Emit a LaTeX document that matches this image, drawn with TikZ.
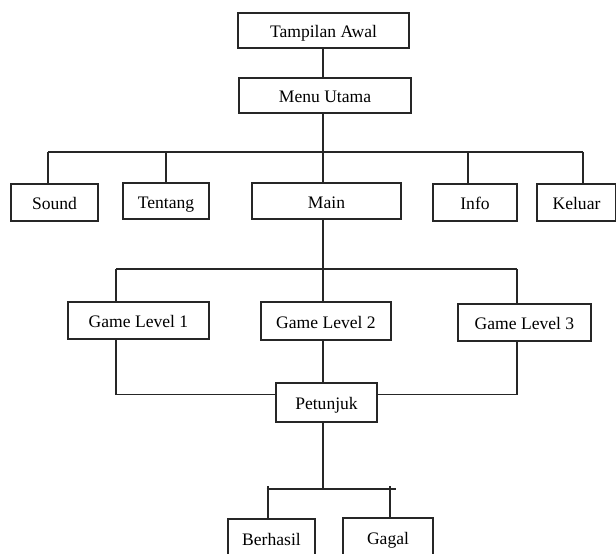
\documentclass[tikz,border=0pt]{standalone}
\usepackage{fontspec}
\setmainfont{Liberation Serif}
\usepackage{tikz}
\usetikzlibrary{positioning}

\begin{document}
\begin{tikzpicture}[x=0.02cm, y=-0.02cm,
screenbox/.style={rectangle, draw=black!85, line width=.7pt, inner sep=0pt,
outer sep=0pt, minimum height=0.74cm, text height=8pt, text depth=0pt,
font=\fontsize{10}{12}\selectfont},
%
link/.style={draw=black!85, line width=.6pt}]

\useasboundingbox (0,0) rectangle (616,554);

%%%%%%%%%%%%%%%%%%%%%%%%%%%%%%
\node [screenbox, minimum width=3.42cm, minimum height=0.70cm] (awal) at (323.5,30.5) {Tampilan Awal};
\node [screenbox, minimum width=3.44cm, minimum height=0.70cm] (menu) at (325,95.5) {Menu Utama};
%%%%%%%%%%%%%%%%%%%%%%%%%%%%%%
\node [screenbox, minimum width=1.74cm] (sound) at (54.5,202.5) {Sound};
\node [screenbox, minimum width=1.72cm, minimum height=0.72cm] (tentang) at (166,201) {Tentang};
\node [screenbox, minimum width=2.98cm, minimum height=0.72cm] (main) at (326.5,201) {Main};
\node [screenbox, minimum width=1.68cm] (info) at (475,202.5) {Info};
\node [screenbox, minimum width=1.58cm] (keluar) at (576.5,202.5) {Keluar};
%%%%%%%%%%%%%%%%%%%%%%%%%%%%%%
\node [screenbox, minimum width=2.82cm] (level1) at (138.5,320.5) {Game Level 1};
\node [screenbox, minimum width=2.60cm, minimum height=0.76cm] (level2) at (326,321) {Game Level 2};
\node [screenbox, minimum width=2.66cm] (level3) at (524.5,322.5) {Game Level 3};
%%%%%%%%%%%%%%%%%%%%%%%%%%%%%%
\node [screenbox, minimum width=2.02cm, minimum height=0.78cm] (petunjuk) at (326.5,402.5) {Petunjuk};
\node [screenbox, minimum width=1.74cm, minimum height=0.76cm] (berhasil) at (271.5,538) {Berhasil};
\node [screenbox, minimum width=1.80cm, minimum height=0.76cm] (gagal) at (388,537) {Gagal};

% titik percabangan
\coordinate (trunk) at (323,152);
\coordinate (busL) at (48,152);
\coordinate (busR) at (583,152);
\coordinate (infoTop) at (468,152);
\coordinate (trunk2) at (323,269);
\coordinate (bus2L) at (116,269);
\coordinate (bus2R) at (517,269);
\coordinate (bus3) at (323,489);
\coordinate (bus3L) at (268,489);
\coordinate (bus3R) at (390,489);

\begin{scope}[link]
   \draw (awal.south -| trunk) -- (menu.north -| trunk);
   \draw (menu.south -| trunk) -- (main.north -| trunk);
   \draw (busL) -- (busR);
   \draw (busL) -- (busL |- sound.north);
   \draw (tentang.north |- busL) -- (tentang.north);
   \draw (infoTop) -- (infoTop |- info.north);
   \draw (busR) -- (busR |- keluar.north);
   %%%%%%%%%%%%%%%%%%%%%%%%%%%%%%
   \draw (main.south -| trunk2) -- (level2.north -| trunk2);
   \draw (bus2L) -- (bus2R);
   \draw (bus2L) -- (bus2L |- level1.north);
   \draw (bus2R) -- (bus2R |- level3.north);
   %%%%%%%%%%%%%%%%%%%%%%%%%%%%%%
   \draw (bus2L |- level1.south) -- (bus2L |- 0,394.5) -- (petunjuk.west |- 0,394.5);
   \draw (bus2R |- level3.south) -- (bus2R |- 0,394.5) -- (petunjuk.east |- 0,394.5);
   \draw (level2.south -| trunk2) -- (petunjuk.north -| trunk2);
   %%%%%%%%%%%%%%%%%%%%%%%%%%%%%%
   \draw (petunjuk.south -| bus3) -- (bus3);
   \draw ([xshift=-0.03cm]bus3L) -- ([xshift=0.12cm]bus3R);
   \draw ([yshift=0.06cm]bus3L) -- (bus3L |- berhasil.north);
   \draw ([yshift=0.06cm]bus3R) -- (bus3R |- gagal.north);
\end{scope}

\end{tikzpicture}
\end{document}
